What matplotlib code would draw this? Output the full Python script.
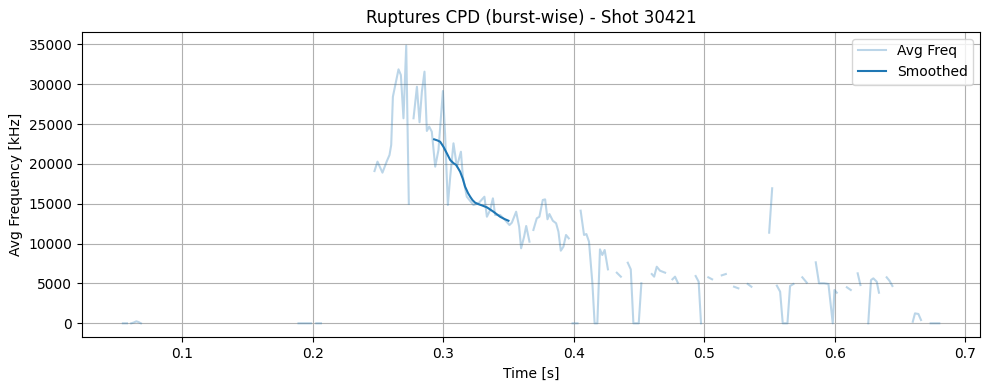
import numpy as np
import matplotlib
matplotlib.use("Agg")
import matplotlib.pyplot as plt

nan = np.nan

# Raw burst-wise average frequency (NaN = gap between bursts)
time_s = [
    0.0547, 0.0578, nan,
    0.0611, 0.0630, 0.0650, 0.0668, 0.0685, nan,
    0.1892, 0.1940, 0.1987, nan,
    0.2028, 0.2064, nan,
    0.2474, 0.2497, 0.2535, 0.2569, 0.2589, 0.2602, 0.2615, 0.2658, 0.2676, 0.2696, 0.2717, 0.2737, nan,
    0.2773, 0.2799, 0.2819, 0.2837, 0.2857, 0.2875, 0.2893, 0.2913, 0.2939, 0.2964, 0.2998, 0.3015,
    0.3036, 0.3054, 0.3079, 0.3105, 0.3136, 0.3151, 0.3181, 0.3232, 0.3270, 0.3316, 0.3335, 0.3360,
    0.3381, 0.3398, 0.3436, 0.3474, 0.3508, 0.3526, 0.3559, 0.3582, 0.3597, 0.3620, 0.3636, 0.3661, nan,
    0.3691, 0.3717, 0.3737, 0.3763, 0.3781, 0.3799, 0.3814, 0.3840, 0.3865, 0.3883, 0.3901, 0.3921,
    0.3941, 0.3962, nan,
    0.3991, 0.4029, nan,
    0.4053, 0.4079, 0.4097, 0.4117, 0.4143, 0.4160, 0.4181, 0.4201, 0.4219, 0.4237, 0.4262, nan,
    0.4330, 0.4361, nan,
    0.4414, 0.4437, 0.4457, 0.4498, 0.4518, nan,
    0.4598, 0.4616, 0.4636, 0.4661, 0.4700, nan,
    0.4756, 0.4776, 0.4797, nan,
    0.4934, 0.4957, 0.4975, nan,
    0.5031, 0.5060, nan,
    0.5134, 0.5165, nan,
    0.5228, 0.5261, nan,
    0.5333, 0.5361, nan,
    0.5497, 0.5520, nan,
    0.5556, 0.5581, 0.5601, 0.5637, 0.5657, 0.5683, nan,
    0.5751, 0.5785, nan,
    0.5854, 0.5879, 0.5917, 0.5951, 0.5984, 0.5997, 0.6015, nan,
    0.6092, 0.6122, nan,
    0.6175, 0.6196, nan,
    0.6256, 0.6277, 0.6295, 0.6321, 0.6338, nan,
    0.6397, 0.6418, 0.6441, nan,
    0.6597, 0.6614, 0.6640, 0.6660, nan,
    0.6734, 0.6800,
]
avg_freq = [
    0, 0, nan,
    0, 100, 250, 150, 0, nan,
    0, 0, 0, nan,
    0, 0, nan,
    19100, 20280, 18900, 20360, 21110, 22370, 28430, 31860, 31150, 25720, 34830, 15000, nan,
    25720, 29680, 25220, 29060, 31570, 24130, 24670, 24040, 19650, 21740, 29140, 23620,
    14840, 18390, 22580, 19650, 21530, 18390, 15880, 14840, 15050, 15880, 13370, 14210,
    15680, 13590, 13590, 12960, 12330, 12620, 14000, 12120, 9410, 10870, 12210, 10240, nan,
    11710, 13170, 13370, 15470, 15550, 13050, 13710, 12870, 12550, 11490, 9110, 9610,
    11080, 10660, nan,
    0, 0, nan,
    14130, 11080, 11200, 10240, 5020, 0, 0, 9280, 8570, 9200, 6770, nan,
    6350, 5850, nan,
    7600, 6770, 0, 0, 5020, nan,
    6180, 5850, 7100, 6600, 6350, nan,
    5520, 5850, 5100, nan,
    5930, 5220, 0, nan,
    5770, 5520, nan,
    6020, 6180, nan,
    4590, 4390, nan,
    4930, 4590, nan,
    11370, 16940, nan,
    4720, 3970, 0, 0, 4680, 4930, nan,
    5770, 5100, nan,
    7650, 5020, 5020, 4930, 0, 4180, 3840, nan,
    4520, 4180, nan,
    6270, 4800, nan,
    0, 5430, 5640, 5220, 3840, nan,
    5770, 5350, 4680, nan,
    200, 1250, 1170, 410, nan,
    0, 0,
]

# Smoothed curve
smooth_t = [0.2931, 0.2955, 0.2977, 0.3002, 0.3028, 0.3054, 0.3078, 0.3100, 0.3130, 0.3150,
            0.3168, 0.3190, 0.3207, 0.3225, 0.3245, 0.3270, 0.3296, 0.3335, 0.3385, 0.3436,
            0.3470, 0.3500]
smooth_f = [23080, 22950, 22780, 22150, 21330, 20490, 20100, 19860, 19020, 18150,
            17140, 16350, 15880, 15450, 15130, 14950, 14800, 14550, 14000, 13370,
            13080, 12870]

fig = plt.figure(figsize=(9.89, 3.9), dpi=100)
ax = fig.add_axes([0.083, 0.1354, 0.991 - 0.083, 0.9185 - 0.1354])
ax.plot(time_s, avg_freq, color="C0", alpha=0.3, linewidth=1.5, label="Avg Freq")
ax.plot(smooth_t, smooth_f, color="C0", linewidth=1.5, label="Smoothed")
ax.set_title("Ruptures CPD (burst-wise) - Shot 30421")
ax.set_xlabel("Time [s]")
ax.set_ylabel("Avg Frequency [kHz]")
ax.grid(True)
ax.legend(loc="upper right")
fig.savefig("out.png", dpi=100)
